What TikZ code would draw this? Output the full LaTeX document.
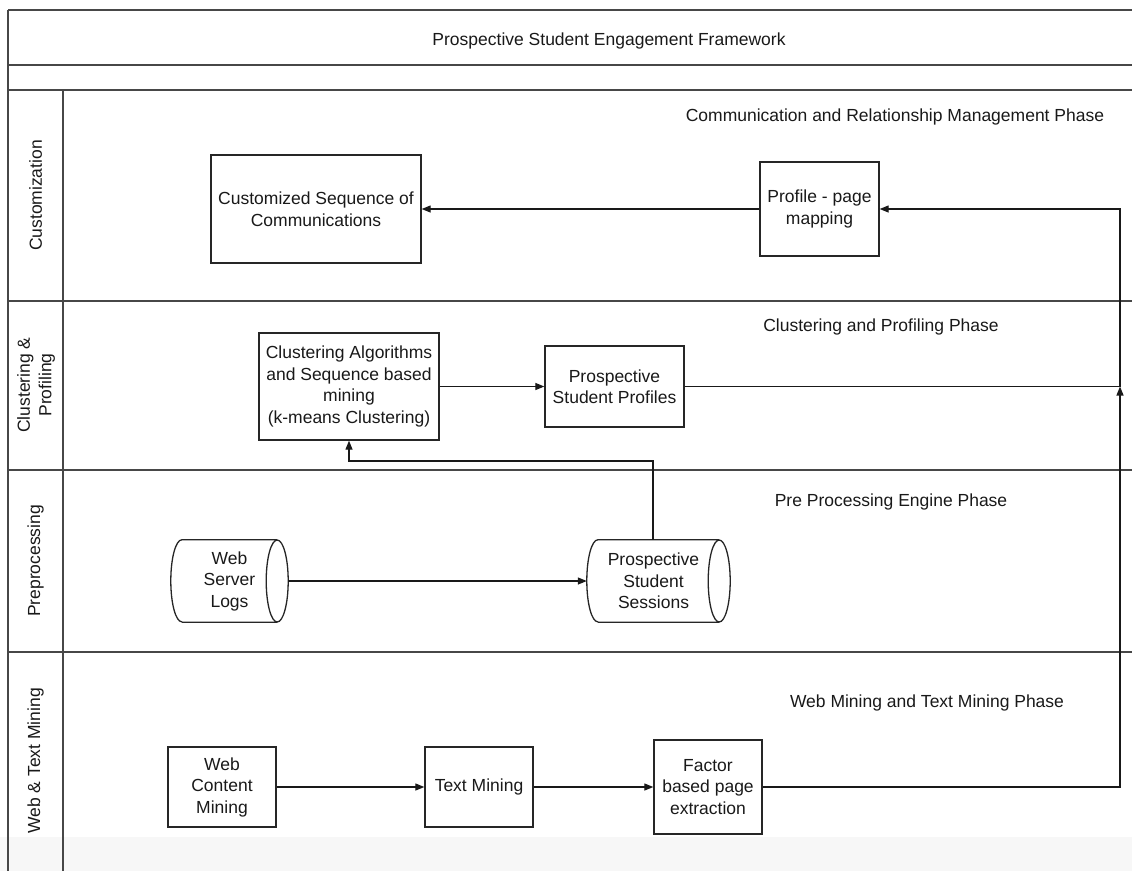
\documentclass[tikz,border=0pt]{standalone}
\usepackage{fontspec}
\setmainfont{Liberation Sans}
\usetikzlibrary{arrows.meta,calc}
\newcommand\dfont{\fontsize{17.5}{21.5}\selectfont}
\newcommand\cylout[1]{%
  \draw[boxline] ([xshift=11pt]#1.north west) -- ([xshift=-11pt]#1.north east)
    ([xshift=11pt]#1.south west) -- ([xshift=-11pt]#1.south east)
    ([xshift=11pt]#1.north west) arc[start angle=90, end angle=270, x radius=11pt, y radius=41pt];
  \draw[boxline] ([xshift=-11pt]#1.east) ellipse[x radius=11pt, y radius=41pt];
}
\begin{document}
\begin{tikzpicture}[x=1pt,y=-1pt,
  every node/.style={font=\dfont, text=black!90},
  frame/.style={draw=black!72, line width=2pt},
  boxline/.style={draw=black!85, line width=1.3pt},
  box/.style={boxline, align=center, inner sep=0pt},
  cyl/.style={align=center, inner sep=0pt, minimum height=82pt},
  lane/.style={rotate=90, align=center},
  line/.style={draw=black!90, line width=1.2pt},
  conn/.style={line, -{Triangle[length=9pt,width=7pt]}}
]
\useasboundingbox (0,0) rectangle (1132,871);
\fill[black!3] (0,837) rectangle (1132,871);

% frame
\draw[frame] (8,10) -- (1132,10);
\draw[frame] (8,65) -- (1132,65);
\draw[frame] (8,90) -- (1132,90);
\draw[frame] (8,301) -- (1132,301);
\draw[frame] (8,469.5) -- (1132,469.5);
\draw[frame] (8,652) -- (1132,652);
\draw[frame] (8,10) -- (8,871);
\draw[frame] (63,90) -- (63,871);

% titles
\node (title) at (609,41) {Prospective Student Engagement Framework};
\node[lane] (lcust) at (35.5,195.5) {Customization};
\node[lane] (lclus) at (36,385) {Clustering \&\\Profiling};
\node[lane] (lpre) at (35.5,561) {Preprocessing};
\node[lane] (lweb) at (35.5,761) {Web \& Text Mining};

\node (pcomm) at (895,117) {Communication and Relationship Management Phase};
\node (pclus) at (881,327) {Clustering and Profiling Phase};
\node (ppre) at (891,502) {Pre Processing Engine Phase};
\node (pweb) at (927,703) {Web Mining and Text Mining Phase};

% nodes
\node[box, minimum width=210pt, minimum height=108pt] (cust) at (316,209) {Customized Sequence of\\Communications};
\node[box, minimum width=119pt, minimum height=94pt] (map) at (819.5,209) {Profile - page\\mapping};
\node[box, minimum width=180pt, minimum height=107pt] (clust) at (349,386.5) {Clustering Algorithms\\and Sequence based\\mining\\(k-means Clustering)};
\node[box, minimum width=139pt, minimum height=81pt] (prof) at (614.5,386.5) {Prospective\\Student Profiles};
\node[cyl, minimum width=117pt] (logs) at (229.5,581) {Web\\Server\\Logs};
\cylout{logs}
\node[cyl, minimum width=143pt] (sess) at (658.5,581) {\hspace*{-10pt}Prospective\\\hspace*{-10pt}Student\\\hspace*{-10pt}Sessions};
\cylout{sess}
\node[box, minimum width=108pt, minimum height=80pt] (webc) at (222,787) {Web\\Content\\Mining};
\node[box, minimum width=108pt, minimum height=80pt] (tmin) at (479,787) {Text Mining};
\node[box, minimum width=108pt, minimum height=94pt] (fact) at (708,787) {Factor\\based page\\extraction};

\coordinate (junc) at (1120,386.5);
\coordinate (bend) at (653,461);

% connectors
\draw[conn] (map.west) -- (cust.east);
\draw[conn] (clust.east) -- (prof.west);
\draw[line] (prof.east) -- (junc);
\draw[conn] (fact.east) -| (junc);
\draw[conn] (junc) |- (map.east);
\draw[conn] (logs.east) -- (sess.west);
\draw[conn] ([xshift=-5.5pt]sess.north) |- (bend) -| (clust.south);
\draw[conn] (webc.east) -- (tmin.west);
\draw[conn] (tmin.east) -- (fact.west);
\end{tikzpicture}
\end{document}
